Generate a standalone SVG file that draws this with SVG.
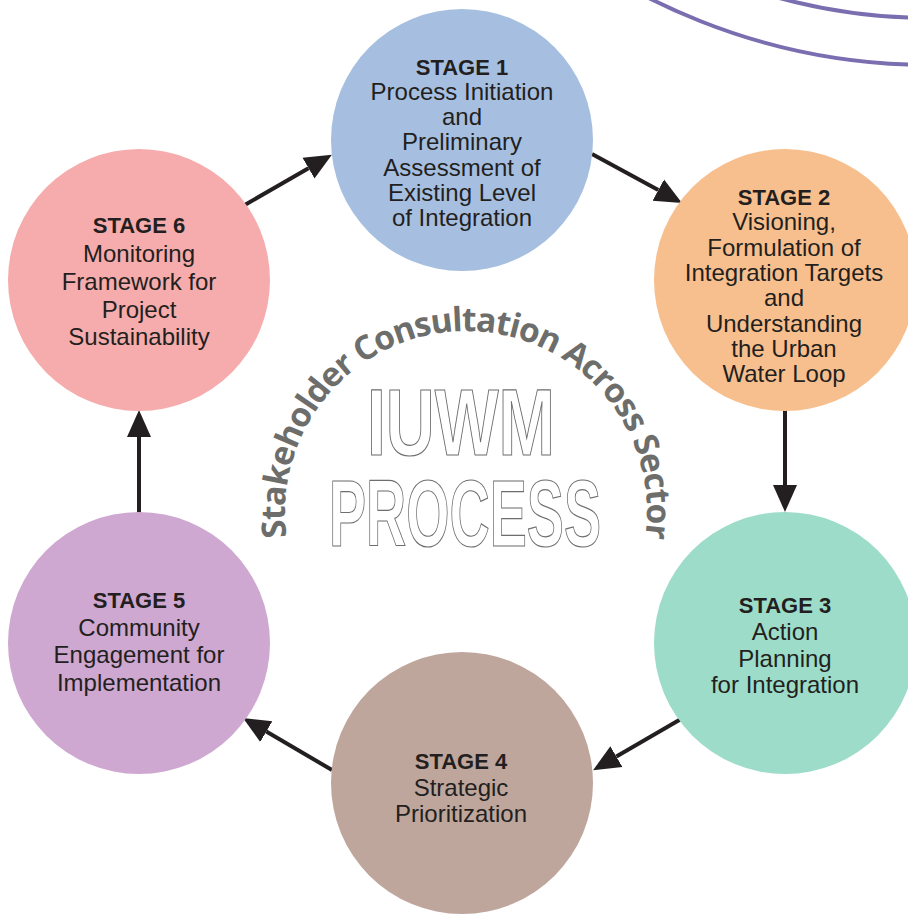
<svg xmlns="http://www.w3.org/2000/svg" width="908" height="914" viewBox="0 0 908 914">
<style>
.stage{font-family:"Liberation Sans",Arial,sans-serif;font-weight:bold;font-size:22px;fill:#231f20;text-anchor:middle}
.body{font-family:"Liberation Sans",Arial,sans-serif;font-size:24px;fill:#231f20;text-anchor:middle}
.conn{stroke:#231f20;stroke-width:4;fill:none}
.deco{stroke:#7a6eb0;stroke-width:4;fill:none}
.big{font-family:"Liberation Sans",Arial,sans-serif;font-weight:bold;font-size:95px;fill:#ffffff;stroke:#6e6e6e;stroke-width:1.2}
.arc{font-family:"Open Sans","DejaVu Sans",sans-serif;font-weight:bold;font-size:33.5px;letter-spacing:-1.1px;fill:#6d6e6b}
</style>
<defs>
<marker id="ah" markerUnits="userSpaceOnUse" markerWidth="28" markerHeight="26" viewBox="0 -13 28 26" refX="0" refY="0" orient="auto">
<path d="M0,-12 L27,0 L0,12 z" fill="#231f20"/>
</marker>
<path id="arcpath" d="M294.5,570 A181,181 0 1,1 637.5,570"/>
</defs>
<rect width="908" height="914" fill="#ffffff"/>
<g id="decoration">
<circle class="deco" cx="930" cy="-558" r="623"/>
<circle class="deco" cx="930" cy="-558" r="576"/>
</g>
<g id="center-title">
<text class="arc"><textPath href="#arcpath" startOffset="50%" text-anchor="middle">Stakeholder Consultation Across Sector</textPath></text>
<text class="big" x="367" y="455" textLength="188" lengthAdjust="spacingAndGlyphs">IUWM</text>
<text class="big" x="329" y="546" textLength="272" lengthAdjust="spacingAndGlyphs">PROCESS</text>
</g>
<g id="connectors">
<line class="conn" x1="243" y1="206" x2="308.5" y2="168.2" marker-end="url(#ah)"/>
<line class="conn" x1="592" y1="154" x2="658.3" y2="190.1" marker-end="url(#ah)"/>
<line class="conn" x1="785" y1="410" x2="785" y2="485" marker-end="url(#ah)"/>
<line class="conn" x1="681" y1="719" x2="616.4" y2="756.6" marker-end="url(#ah)"/>
<line class="conn" x1="332" y1="770" x2="266.3" y2="731.6" marker-end="url(#ah)"/>
<line class="conn" x1="139" y1="513" x2="139" y2="437" marker-end="url(#ah)"/>
</g>
<g id="stage1">
<circle cx="462" cy="140" r="131" fill="#a6bfe0"/>
<text class="stage" x="462" y="75">STAGE 1</text>
<text class="body" x="462" y="100">Process Initiation</text>
<text class="body" x="462" y="125">and</text>
<text class="body" x="462" y="150">Preliminary</text>
<text class="body" x="462" y="176">Assessment of</text>
<text class="body" x="462" y="201">Existing Level</text>
<text class="body" x="462" y="226">of Integration</text>
</g>
<g id="stage2">
<circle cx="785" cy="280" r="131" fill="#f8bf8e"/>
<text class="stage" x="784" y="205">STAGE 2</text>
<text class="body" x="784" y="230">Visioning,</text>
<text class="body" x="784" y="256">Formulation of</text>
<text class="body" x="784" y="281">Integration Targets</text>
<text class="body" x="784" y="306">and</text>
<text class="body" x="784" y="332">Understanding</text>
<text class="body" x="784" y="357">the Urban</text>
<text class="body" x="784" y="382">Water Loop</text>
</g>
<g id="stage3">
<circle cx="785" cy="643" r="131" fill="#9cdcc9"/>
<text class="stage" x="785" y="613">STAGE 3</text>
<text class="body" x="785" y="640">Action</text>
<text class="body" x="785" y="667">Planning</text>
<text class="body" x="785" y="693">for Integration</text>
</g>
<g id="stage4">
<circle cx="462" cy="783" r="131" fill="#bea69c"/>
<text class="stage" x="461" y="769">STAGE 4</text>
<text class="body" x="461" y="796">Strategic</text>
<text class="body" x="461" y="822">Prioritization</text>
</g>
<g id="stage5">
<circle cx="139" cy="643" r="131" fill="#cea8d1"/>
<text class="stage" x="139" y="608">STAGE 5</text>
<text class="body" x="139" y="636">Community</text>
<text class="body" x="139" y="663">Engagement for</text>
<text class="body" x="139" y="691">Implementation</text>
</g>
<g id="stage6">
<circle cx="139" cy="280" r="131" fill="#f6acac"/>
<text class="stage" x="139" y="233">STAGE 6</text>
<text class="body" x="139" y="262">Monitoring</text>
<text class="body" x="139" y="290">Framework for</text>
<text class="body" x="139" y="318">Project</text>
<text class="body" x="139" y="345">Sustainability</text>
</g>
</svg>
